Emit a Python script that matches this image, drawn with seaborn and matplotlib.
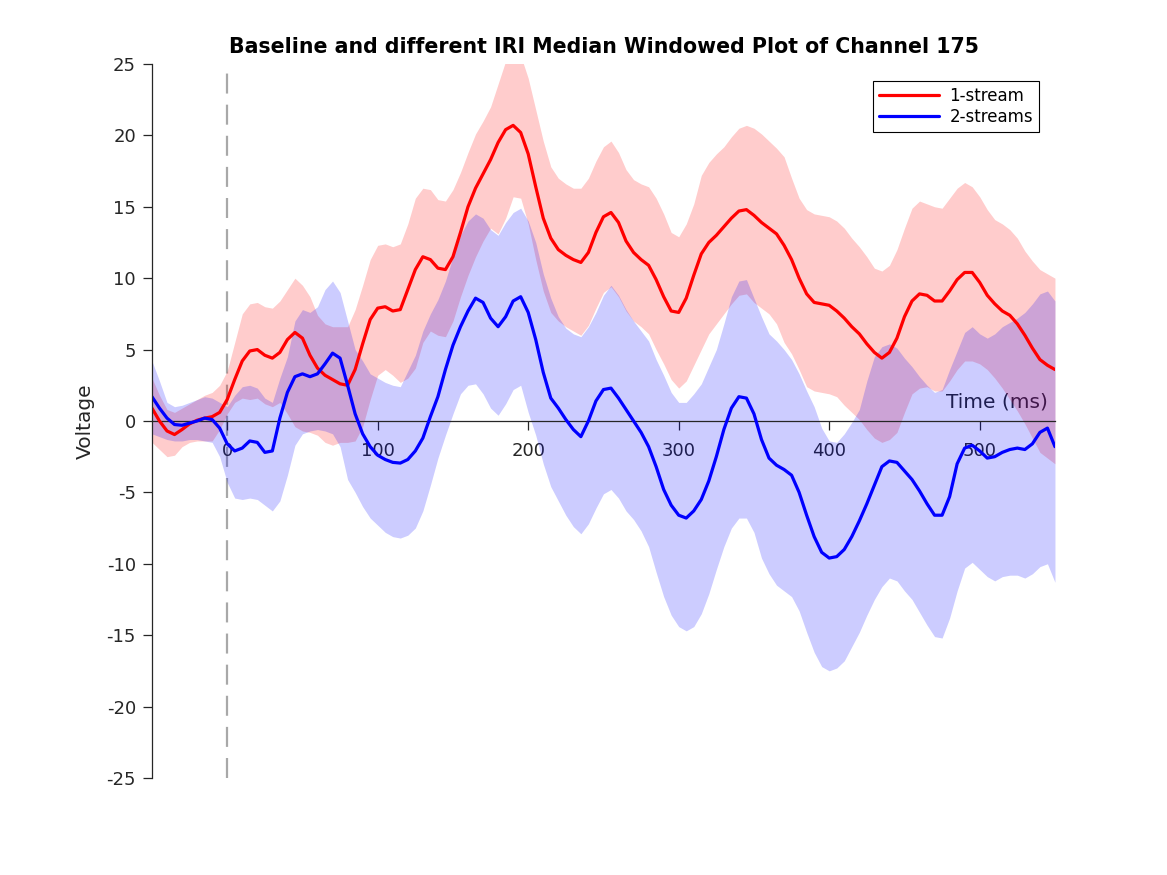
import numpy as np
import matplotlib
matplotlib.use('Agg')
import matplotlib.pyplot as plt
import seaborn as sns

# time axis (ms), one sample every 5 ms
time_ms = np.arange(-50, 551, 5)

# 1-stream: median and window limits
stream1_median = [
    0.9, 0.0, -0.7, -0.95, -0.6, -0.2, 0.05, 0.2, 0.3, 0.6,
    1.5, 2.9, 4.2, 4.9, 5.0, 4.6, 4.4, 4.8, 5.7, 6.2,
    5.8, 4.6, 3.7, 3.2, 2.9, 2.6, 2.5, 3.6, 5.4, 7.1,
    7.9, 8.0, 7.7, 7.8, 9.2, 10.6, 11.5, 11.3, 10.7, 10.6,
    11.5, 13.2, 15.0, 16.3, 17.3, 18.3, 19.5, 20.4, 20.7, 20.2,
    18.7, 16.4, 14.2, 12.8, 12.0, 11.6, 11.3, 11.1, 11.8, 13.2,
    14.3, 14.6, 13.9, 12.6, 11.8, 11.3, 10.9, 9.9, 8.7, 7.7,
    7.6, 8.6, 10.2, 11.7, 12.5, 13.0, 13.6, 14.2, 14.7, 14.8,
    14.4, 13.9, 13.5, 13.1, 12.3, 11.3, 10.0, 8.9, 8.3, 8.2,
    8.1, 7.7, 7.2, 6.6, 6.1, 5.4, 4.8, 4.4, 4.8, 5.8,
    7.3, 8.4, 8.9, 8.8, 8.4, 8.4, 9.1, 9.9, 10.4, 10.4,
    9.7, 8.8, 8.2, 7.7, 7.4, 6.8, 6.0, 5.1, 4.3, 3.9,
    3.6,
]
stream1_upper = [
    3.0, 1.8, 0.8, 0.6, 0.9, 1.2, 1.5, 1.8, 2.0, 2.5,
    3.5, 5.5, 7.5, 8.2, 8.3, 8.0, 7.9, 8.4, 9.2, 10.0,
    9.5, 8.7, 7.4, 6.8, 6.6, 6.6, 6.6, 7.8, 9.5, 11.3,
    12.3, 12.4, 12.2, 12.4, 13.8, 15.6, 16.3, 16.2, 15.5, 15.4,
    16.2, 17.4, 18.8, 20.1, 21.0, 22.0, 23.6, 25.2, 25.8, 25.6,
    24.0, 21.8, 19.6, 17.8, 17.0, 16.6, 16.3, 16.3, 17.0, 18.2,
    19.2, 19.6, 18.8, 17.6, 16.9, 16.6, 16.4, 15.6, 14.5, 13.2,
    12.9, 13.8, 15.2, 17.2, 18.1, 18.7, 19.2, 19.9, 20.5, 20.7,
    20.5, 20.1, 19.6, 19.1, 18.5, 17.0, 15.6, 14.8, 14.5, 14.4,
    14.3, 14.0, 13.5, 12.8, 12.2, 11.5, 10.7, 10.5, 10.9, 12.0,
    13.5, 14.9, 15.4, 15.2, 15.0, 14.9, 15.6, 16.3, 16.7, 16.4,
    15.7, 14.8, 14.1, 13.8, 13.4, 12.8, 11.9, 11.2, 10.6, 10.3,
    10.0,
]
stream1_lower = [
    -1.5, -2.0, -2.5, -2.4, -1.8, -1.5, -1.4, -1.4, -1.4, -0.6,
    0.5, 1.3, 1.6, 1.5, 1.6, 1.2, 1.0, 1.3, 0.5, -0.4,
    -0.7, -0.8, -1.0, -1.5, -1.7, -1.5, -1.5, -1.4, -0.4, 1.5,
    3.2, 3.6, 3.2, 2.7, 3.0, 3.7, 5.5, 6.3, 6.0, 5.9,
    7.0, 8.7, 10.2, 11.5, 12.6, 13.5, 13.1, 14.2, 15.7, 15.6,
    13.8, 11.3, 9.1, 7.6, 7.0, 6.6, 6.3, 6.0, 6.7, 7.9,
    9.0, 9.4, 8.7, 7.7, 7.0, 6.6, 6.1, 5.0, 4.0, 2.9,
    2.3, 2.8, 3.9, 5.0, 6.1, 6.8, 7.5, 8.2, 8.8, 8.9,
    8.3, 7.9, 7.5, 6.8, 5.5, 4.7, 3.6, 2.4, 2.1, 2.0,
    1.9, 1.7, 1.1, 0.6, 0.1, -0.6, -1.2, -1.5, -1.3, -0.8,
    0.6, 1.9, 2.3, 2.4, 2.1, 2.1, 2.8, 3.6, 4.2, 4.2,
    4.0, 3.6, 3.0, 2.3, 1.5, 0.7, -0.2, -1.2, -2.2, -2.6,
    -3.0,
]

# 2-streams: median and window limits
stream2_median = [
    1.7, 0.9, 0.2, -0.25, -0.3, -0.15, 0.0, 0.2, 0.1, -0.5,
    -1.6, -2.1, -1.9, -1.4, -1.5, -2.2, -2.1, 0.2, 2.0, 3.1,
    3.3, 3.1, 3.3, 4.0, 4.75, 4.4, 2.5, 0.5, -0.9, -1.8,
    -2.4, -2.7, -2.9, -2.95, -2.7, -2.1, -1.2, 0.3, 1.7, 3.6,
    5.3, 6.6, 7.7, 8.6, 8.3, 7.2, 6.6, 7.3, 8.4, 8.7,
    7.6, 5.7, 3.4, 1.6, 0.9, 0.1, -0.6, -1.1, 0.0, 1.4,
    2.2, 2.3, 1.6, 0.8, 0.0, -0.8, -1.8, -3.2, -4.8, -5.9,
    -6.6, -6.8, -6.3, -5.5, -4.2, -2.5, -0.6, 0.9, 1.7, 1.6,
    0.5, -1.3, -2.6, -3.1, -3.4, -3.8, -5.0, -6.6, -8.1, -9.2,
    -9.6, -9.5, -9.0, -8.1, -7.0, -5.8, -4.5, -3.2, -2.8, -2.9,
    -3.5, -4.1, -4.9, -5.8, -6.6, -6.6, -5.3, -3.0, -1.9, -1.7,
    -2.1, -2.6, -2.5, -2.2, -2.0, -1.9, -2.0, -1.6, -0.8, -0.5,
    -1.8,
]
stream2_upper = [
    4.2, 2.8, 1.3, 1.0, 1.1, 1.3, 1.5, 1.7, 1.6, 1.3,
    1.0, 1.8, 2.4, 2.5, 2.3, 1.6, 1.3, 3.0, 4.5, 7.0,
    7.8, 7.6, 8.0, 9.2, 9.8, 9.0, 7.0, 5.0, 4.2, 3.3,
    3.0, 2.7, 2.5, 2.4, 3.5, 4.6, 6.3, 7.5, 8.5, 9.8,
    11.5, 13.0, 14.0, 14.5, 14.2, 13.4, 13.0, 13.9, 14.6, 14.9,
    14.0, 12.5, 10.3, 8.6, 7.3, 6.5, 6.1, 5.9, 6.6, 7.6,
    8.8, 9.5, 8.8, 7.8, 7.0, 6.3, 5.6, 4.3, 3.2, 2.0,
    1.3, 1.3, 1.9, 2.6, 3.8, 5.0, 6.8, 8.7, 9.8, 9.9,
    8.6, 7.3, 6.1, 5.6, 5.0, 4.3, 3.3, 2.1, 1.0, -0.5,
    -1.4, -1.5, -0.9, -0.1, 0.8, 2.8, 4.5, 5.2, 5.4, 5.1,
    4.4, 3.8, 3.1, 2.5, 2.0, 2.2, 3.6, 4.9, 6.2, 6.6,
    6.1, 5.8, 6.1, 6.6, 6.9, 7.2, 7.6, 8.2, 8.9, 9.1,
    8.4,
]
stream2_lower = [
    -0.9, -1.1, -1.3, -1.4, -1.4, -1.3, -1.3, -1.4, -1.5, -2.5,
    -4.3, -5.4, -5.5, -5.4, -5.5, -5.9, -6.3, -5.6, -3.8, -1.7,
    -0.9, -0.7, -0.6, -0.7, -0.9, -1.8, -4.1, -5.0, -6.0, -6.8,
    -7.3, -7.8, -8.1, -8.2, -8.0, -7.5, -6.3, -4.5, -2.6, -1.0,
    0.5, 1.9, 2.5, 2.6, 1.9, 0.9, 0.4, 1.2, 2.2, 2.5,
    0.6, -1.0, -3.0, -4.6, -5.6, -6.6, -7.4, -7.9, -7.2, -6.1,
    -5.1, -4.8, -5.4, -6.3, -6.9, -7.7, -8.8, -10.6, -12.3, -13.6,
    -14.4, -14.7, -14.4, -13.5, -12.1, -10.4, -8.8, -7.5, -6.8, -6.8,
    -7.8, -9.6, -10.7, -11.5, -11.9, -12.3, -13.3, -14.8, -16.2, -17.2,
    -17.5, -17.3, -16.8, -15.8, -14.8, -13.6, -12.5, -11.6, -11.0, -11.2,
    -11.9, -12.5, -13.4, -14.3, -15.1, -15.2, -13.8, -11.9, -10.3, -9.9,
    -10.4, -10.9, -11.2, -10.9, -10.8, -10.8, -11.0, -10.7, -10.2, -10.0,
    -11.3,
]

y_ticks = [-25, -20, -15, -10, -5, 0, 5, 10, 15, 20, 25]
x_ticks = [0, 100, 200, 300, 400, 500]
stim_onset = 0

sns.set_style('ticks')
plt.rcParams['font.family'] = ['DejaVu Sans']
plt.rcParams['axes.unicode_minus'] = False

dark = '#262626'
fig = plt.figure(figsize=(11.67, 8.75), dpi=100)
ax = fig.add_axes([0.1302, 0.1109, 0.7738, 0.816])

# 1-stream band + median
ax.fill_between(time_ms, stream1_lower, stream1_upper, color='red', alpha=0.2, linewidth=0)
sns.lineplot(x=time_ms, y=stream1_median, ax=ax, color='red', linewidth=2.3,
             label='1-stream', solid_joinstyle='round')

# 2-streams band + median (drawn on top)
ax.fill_between(time_ms, stream2_lower, stream2_upper, color='blue', alpha=0.2, linewidth=0)
sns.lineplot(x=time_ms, y=stream2_median, ax=ax, color='blue', linewidth=2.3,
             label='2-streams', solid_joinstyle='round')

# stimulus onset marker
ax.axvline(stim_onset, color='#a8a8a8', linewidth=1.6, dashes=(9, 5), zorder=0.5)

ax.set_xlim(-50, 550)
ax.set_ylim(-25, 25)
ax.set_xticks(x_ticks)
ax.set_yticks(y_ticks)

# axes through the origin, matlab style
ax.spines['top'].set_visible(False)
ax.spines['right'].set_visible(False)
ax.spines['bottom'].set_position(('data', 0))
ax.spines['bottom'].set_zorder(1.5)
for s in ['left', 'bottom']:
    ax.spines[s].set_color(dark)
    ax.spines[s].set_linewidth(0.9)
ax.tick_params(axis='both', direction='out', length=6.5, width=0.9, color=dark,
               labelcolor=dark, labelsize=13, bottom=True, left=True)
ax.tick_params(axis='x', pad=9)
ax.tick_params(axis='y', pad=5)

ax.set_title('Baseline and different IRI Median Windowed Plot of Channel 175',
             fontsize=14.8, fontweight='bold', color='black', pad=8)
ax.set_ylabel('Voltage', fontsize=14.5, color=dark)
ax.yaxis.set_label_coords(-0.063, 0.5)
ax.set_xlabel('Time (ms)', fontsize=14.5, color=dark, ha='right', va='bottom')
ax.xaxis.set_label_coords(0.992, 0.513)

leg = ax.legend(loc='upper right', bbox_to_anchor=(0.982, 0.976), borderaxespad=0,
                fontsize=12, frameon=True, fancybox=False, handlelength=3.6,
                handletextpad=0.6, labelspacing=0.2, borderpad=0.35)
leg.get_frame().set_edgecolor('black')
leg.get_frame().set_linewidth(0.8)
leg.get_frame().set_alpha(1)
for txt in leg.get_texts():
    txt.set_color('black')

fig.savefig('out.png', dpi=100)
